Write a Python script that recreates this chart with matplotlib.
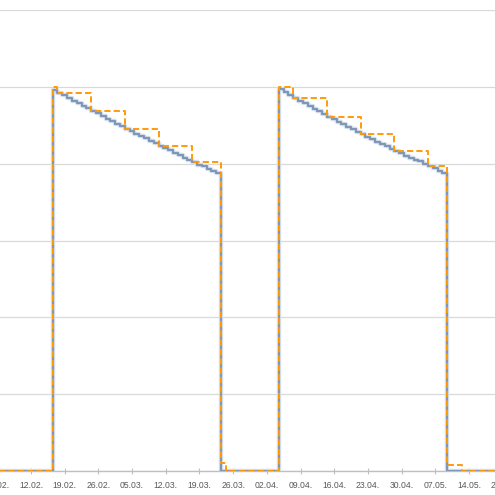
import matplotlib
matplotlib.use('Agg')
import matplotlib.pyplot as plt
import matplotlib.dates as mdates
import matplotlib.patheffects as pe
import pandas as pd

# daily blue series, non-zero stretches (start date + values)
blue_c1_start = '2018-02-17'
blue_c1 = [99.2,
           98.5, 97.8, 97.1, 96.4, 95.8, 95.1, 94.4,
           93.75, 93.1, 92.4, 91.7, 91.1, 90.4, 89.8,
           89.1, 88.5, 87.8, 87.2, 86.6, 85.9, 85.3,
           84.7, 84.1, 83.5, 82.8, 82.2, 81.6, 81.0,
           80.4, 79.8, 79.3, 78.7, 78.1, 77.6]
blue_c2_start = '2018-04-05'
blue_c2 = [99.4, 98.6, 97.8,
           97.1, 96.4, 95.7, 95.0, 94.3, 93.7, 93.0,
           92.3, 91.6, 91.0, 90.3, 89.6, 89.0, 88.3,
           87.7, 87.0, 86.4, 85.7, 85.1, 84.5, 83.8,
           83.2, 82.7, 82.1, 81.6, 81.1, 80.6, 80.0,
           79.5, 78.8, 78.2, 77.5]

# orange series, held weekly (Sunday snapshots)
orange_c1_start = '2018-02-17'
orange_c1 = [100.0] + [98.5] * 7 + [93.75] * 7 + [89.1] * 7 + [84.7] * 7 + [80.4] * 6 + [2.0]
orange_c2_start = '2018-04-05'
orange_c2 = [100.0] * 3 + [97.1] * 7 + [92.3] * 7 + [87.7] * 7 + [83.2] * 7 + [79.5] * 4 + [1.6] * 3

days = pd.date_range('2018-01-29', '2018-05-31', freq='D')
tick_dates = pd.date_range('2018-02-05', '2018-05-21', freq='7D')


def series(parts):
    s = pd.Series(0.0, index=days)
    for start, vals in parts:
        idx = pd.date_range(start, periods=len(vals), freq='D')
        s.loc[idx] = vals
    return s


blue = series([(blue_c1_start, blue_c1), (blue_c2_start, blue_c2)])
orange = series([(orange_c1_start, orange_c1), (orange_c2_start, orange_c2)])

fig = plt.figure(figsize=(4.95, 4.95), dpi=100)
# the axes run a little past both figure edges, so the outer labels get clipped
ax = fig.add_axes([-0.0152, 0.0485, 1.0404, 0.931])

ax.step(blue.index, blue.values, where='mid', color='#7f97b6', lw=1.6,
        path_effects=[pe.Stroke(linewidth=3.2, foreground='#dbe4ef'), pe.Normal()],
        zorder=3)
ax.step(orange.index, orange.values, where='mid', color='#ff9a0a', lw=1.4,
        dashes=(3.2, 1.6), zorder=4)

ax.set_yticks(range(0, 121, 20))
ax.set_ylim(0, 120)
ax.set_xticks(tick_dates)
ax.xaxis.set_major_formatter(mdates.DateFormatter('%d.%m.'))
# limits after the ticks, otherwise set_xticks widens the view
ax.set_xlim(pd.Timestamp('2018-02-04'), pd.Timestamp('2018-05-22'))
ax.grid(axis='y', color='#d9d9d9', lw=0.9)
ax.set_axisbelow(True)

for side in ['top', 'left', 'right']:
    ax.spines[side].set_visible(False)
ax.spines['bottom'].set_color('#bfbfbf')
ax.spines['bottom'].set_linewidth(1.0)
ax.spines['bottom'].set_zorder(2)
ax.tick_params(axis='y', left=False, labelleft=False)
ax.tick_params(axis='x', direction='inout', length=4, width=0.8, color='#bfbfbf',
               labelsize=6.2, labelcolor='#595959', pad=5)
for lab in ax.get_xticklabels():
    lab.set_family('Liberation Sans')

fig.savefig('out.png', dpi=100)
